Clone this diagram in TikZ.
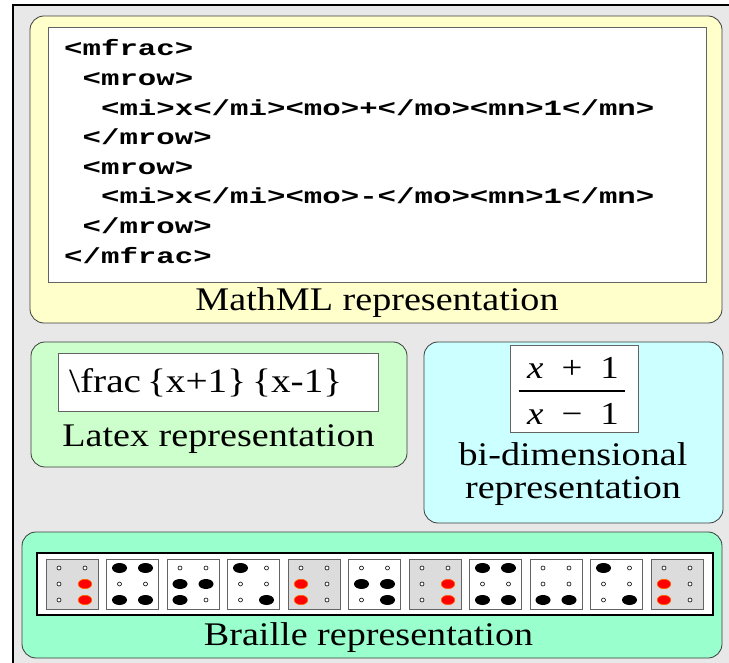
\documentclass[tikz,border=0pt]{standalone}
\usepackage{fontspec}
\setmainfont{Liberation Serif}[FakeStretch=1.155]
\setmonofont{Liberation Mono}[FakeStretch=1.41]
\usepackage{tikz}
\usetikzlibrary{shapes.geometric}

\definecolor{framegray}{HTML}{E8E8E8}
\definecolor{mathmlyellow}{HTML}{FFFFCC}
\definecolor{latexgreen}{HTML}{CCFFCC}
\definecolor{bidimcyan}{HTML}{CCFFFF}
\definecolor{braillegreen}{HTML}{99FFCC}
\definecolor{cellgray}{HTML}{DCDCDC}
\definecolor{edgegray}{HTML}{3C3C3C}

\begin{document}
\begin{tikzpicture}[
    x=1pt, y=-1pt,
    repbox/.style = {
        draw=edgegray, rounded corners=14pt,
        line width=0.8pt, inner sep=0pt
    },
    whitebox/.style = {
        draw=edgegray!80, fill=white,
        line width=0.8pt, inner sep=0pt
    },
    lbl/.style = {
        anchor=base, inner sep=0pt,
        font=\fontsize{33}{38}\selectfont
    },
    cellbox/.style = {
        draw=edgegray!80, line width=0.7pt, inner sep=0pt,
        minimum width=52pt, minimum height=50pt
    },
    brlo/.style = {circle, draw=black, fill=white, line width=0.6pt,
        inner sep=0pt, minimum size=4pt},
    brlb/.style = {ellipse, fill=black, inner sep=0pt,
        minimum width=15pt, minimum height=10pt},
    brlr/.style = {ellipse, fill=red, draw=orange!80!red, line width=0.6pt,
        inner sep=0pt, minimum width=13.5pt, minimum height=9.5pt}
]

%% ---- FRAME ----
\clip (0,0) rectangle (729,663);
\draw[line width=2pt, fill=framegray] (12.7,5.3) rectangle (760,700);

%% ---- MATHML ----
\node[repbox, fill=mathmlyellow, minimum width=692pt, minimum height=307pt] (mathml) at (376,169.5) {};
\node[whitebox, minimum width=658pt, minimum height=255pt] (mmlcode) at (377,154.5) {};
\node[anchor=north west, inner sep=0pt, align=left,
      font=\ttfamily\bfseries\fontsize{21.8}{29.6}\selectfont] (mmltext) at (64,39.5)
    {<mfrac>\\~<mrow>\\~~<mi>x</mi><mo>+</mo><mn>1</mn>\\~</mrow>\\~<mrow>\\~~<mi>x</mi><mo>-</mo><mn>1</mn>\\~</mrow>\\</mfrac>};
\node[lbl] (mathmllbl) at (377,311) {MathML representation};

%% ---- LATEX ----
\node[repbox, fill=latexgreen, minimum width=376pt, minimum height=125pt] (latex) at (219,404.5) {};
\node[whitebox, minimum width=320pt, minimum height=58pt] (latexsrc) at (218,382) {};
\node[anchor=base west, inner sep=0pt, font=\fontsize{34}{40}\selectfont] (latextxt) at (69,392)
    {\textbackslash frac\hspace{6pt}\{x+1\}\hspace{6pt}\{x-1\}};
\node[lbl] (latexlbl) at (218.5,446) {Latex representation};

%% ---- BI-DIMENSIONAL ----
\node[repbox, fill=bidimcyan, minimum width=299pt, minimum height=181pt] (bidim) at (573.5,432.5) {};
\node[whitebox, minimum width=128pt, minimum height=87pt] (bidimfrac) at (574,388.5) {};
\node[anchor=base, inner sep=0pt, font=\fontsize{32}{36}\selectfont] (numer) at (573,378)
    {\textit{x}\hspace{18pt}+\hspace{18pt}1};
\node[anchor=base, inner sep=0pt, font=\fontsize{32}{36}\selectfont] (denom) at (573,424)
    {\textit{x}\hspace{18pt}−\hspace{18pt}1};
\draw[line width=1.2pt] ([xshift=9pt,yshift=-2.5pt]bidimfrac.west) -- ([xshift=-13pt,yshift=-2.5pt]bidimfrac.east);
\node[lbl] (bidimlbl) at (573,465) {bi-dimensional};
\node[lbl] (bidimlbl2) at (573,498) {representation};

%% ---- BRAILLE ----
\node[repbox, fill=braillegreen, minimum width=700pt, minimum height=126pt] (braille) at (372,595) {};
\node[draw=black, fill=white, line width=2.5pt, inner sep=0pt,
      minimum width=676pt, minimum height=62pt] (strip) at (375,584) {};
\foreach \bg/\pat [count=\i from 0] in {
    cellgray/{o,o,o,o,r,r}, white/{b,o,b,b,o,b}, white/{o,b,b,o,b,o},
    white/{b,o,o,o,o,b}, cellgray/{o,r,r,o,o,o}, white/{o,b,o,o,b,b},
    cellgray/{o,o,o,o,r,r}, white/{b,o,b,b,o,b}, white/{o,o,b,o,o,b},
    white/{b,o,o,o,o,b}, cellgray/{o,r,r,o,o,o}}
{
    \node[cellbox, fill=\bg] (cell\i) at ({72+60.5*\i},584) {};
    \foreach \d [count=\j from 0] in \pat {
        \pgfmathtruncatemacro\col{\j/3}
        \pgfmathtruncatemacro\row{\j-3*\col}
        \node[brl\d] (dot\i\j) at ({59+60.5*\i+26*\col},{568+16*\row}) {};
    }
}
\node[lbl] (braillelbl) at (368.5,645) {Braille representation};

\end{tikzpicture}
\end{document}
